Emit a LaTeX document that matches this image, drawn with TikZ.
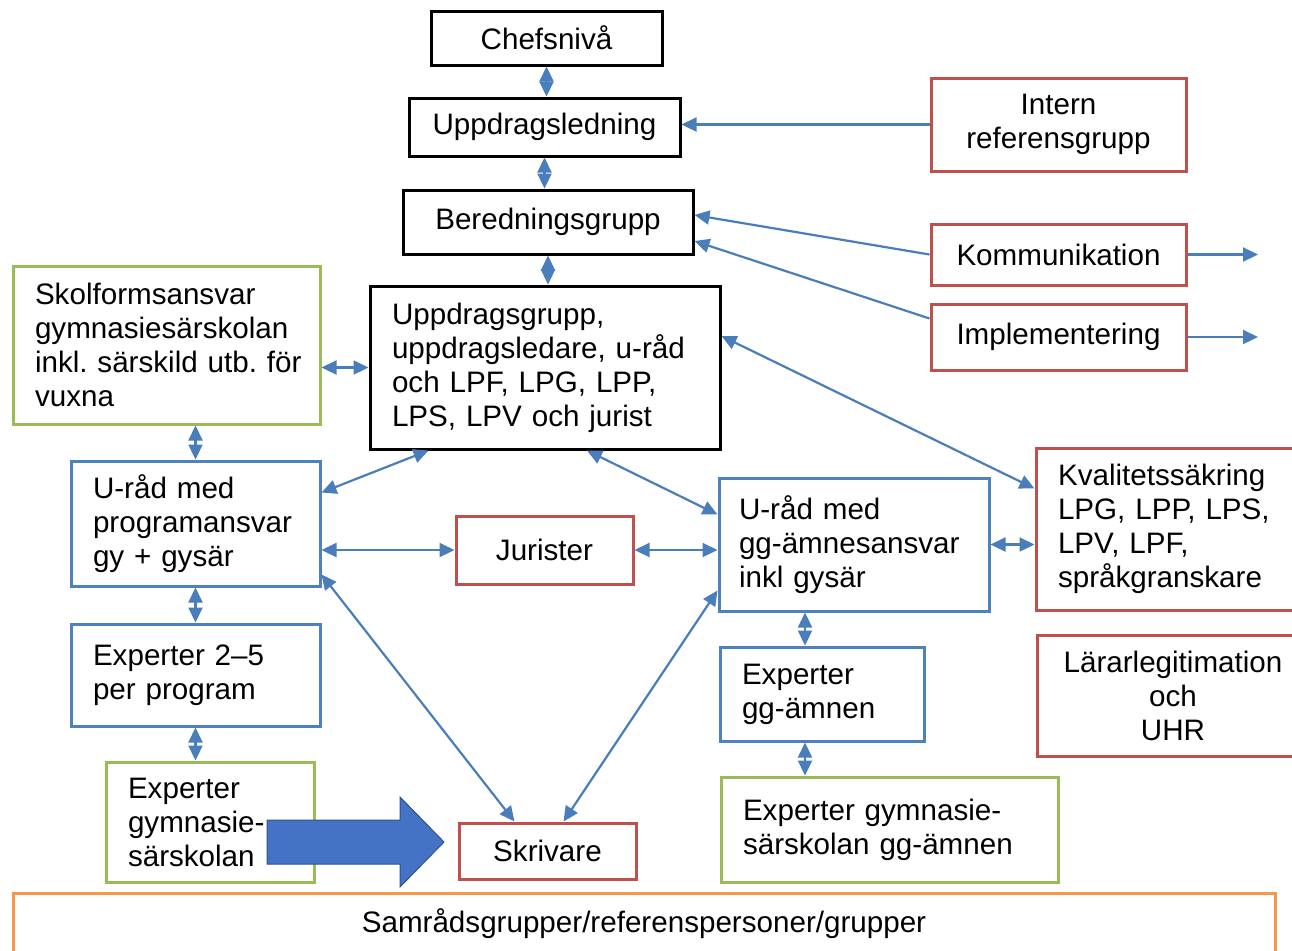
\documentclass[tikz,border=0pt]{standalone}
\usepackage{fontspec}
\setmainfont{Liberation Sans}
\usetikzlibrary{arrows.meta}
\definecolor{boxred}{HTML}{C0504D}
\definecolor{boxblue}{HTML}{4F81BD}
\definecolor{boxgreen}{HTML}{9BBB59}
\definecolor{boxorange}{HTML}{F79646}
\definecolor{lineblue}{HTML}{4A7EBB}
\definecolor{bigblue}{HTML}{4472C4}
\definecolor{bigblueline}{HTML}{2F528F}
\begin{document}
\begin{tikzpicture}[x=0.5pt,y=-0.5pt,
		every node/.style={font=\fontsize{14.8}{17}\selectfont},
		black box/.style={rectangle,draw=black,line width=1.5pt,align=center},
		red box/.style={rectangle,draw=boxred,line width=1.5pt,align=center},
		blue box/.style={rectangle,draw=boxblue,line width=1.5pt,align=left,inner xsep=11pt},
		green box/.style={rectangle,draw=boxgreen,line width=1.5pt,align=left,inner xsep=11pt},
		conn/.style={color=lineblue,line width=1.1pt},
		both/.style={draw,{Triangle[length=7.5pt,width=7pt]}-{Triangle[length=7.5pt,width=7pt]}},
		one/.style={draw,-{Triangle[length=7.5pt,width=7pt]}}]
		
		\useasboundingbox (0,0) rectangle (1292,950);
		
		\node[black box,minimum width=115.5pt,minimum height=27pt] (chef) at (546.5,38) {Chefsnivå};
		\node[black box,minimum width=135.5pt,minimum height=29pt] (ul) at (544.5,127) {Uppdragsledning};
		\node[black box,minimum width=145pt,minimum height=32pt] (bg) at (548,222) {Beredningsgrupp};
		\node[black box,align=left,inner xsep=11pt,text width=153pt,minimum height=81.5pt] (ug) at (545,367.5)
			{Uppdragsgrupp,\\uppdragsledare, u-råd\\och LPF, LPG, LPP,\\LPS, LPV och jurist};
		
		\node[red box,minimum width=127.5pt,minimum height=46.5pt] (irg) at (1058.5,124.5) {Intern\\referensgrupp};
		\node[red box,minimum width=127.5pt,minimum height=30.5pt] (kom) at (1058.5,254.5) {Kommunikation};
		\node[red box,minimum width=127.5pt,minimum height=33pt] (imp) at (1058.5,337) {Implementering};
		\coordinate (komout) at (1258,254.5);
		\coordinate (impout) at (1258,337);
		
		\node[green box,text width=131.5pt,minimum height=79pt] (sk) at (166.5,345)
			{Skolformsansvar\\gymnasiesärskolan\\inkl.~särskild~utb.~för\\vuxna};
		\node[blue box,text width=102.5pt,minimum height=62.5pt] (upr) at (195.5,523.5) {U-råd med\\programansvar\\gy + gysär};
		\node[blue box,text width=102.5pt,minimum height=51pt] (e25) at (195.5,675) {Experter 2–5\\per program};
		\node[green box,text width=82pt,minimum height=60pt] (egs) at (210,822) {Experter\\gymnasie-\\särskolan};
		
		\node[red box,minimum width=88.5pt,minimum height=34pt] (jur) at (544.5,550) {Jurister};
		\node[red box,minimum width=88.5pt,minimum height=28pt] (skr) at (547.5,851) {Skrivare};
		
		\node[blue box,inner xsep=10pt,text width=115pt,minimum height=66.5pt] (ugg) at (854,544.5) {U-råd med\\gg-ämnesansvar\\inkl gysär};
		\node[blue box,text width=80pt,minimum height=47pt] (egg) at (822,694) {Experter\\gg-ämnen};
		\node[green box,text width=146.5pt,minimum height=52.5pt] (egsg) at (889.5,829.5) {Experter gymnasie-\\särskolan gg-ämnen};
		
		\node[red box,align=left,inner xsep=11pt,text width=110pt,minimum height=81pt] (kval) at (1168,529)
			{Kvalitetssäkring\\LPG, LPP, LPS,\\LPV, LPF,\\språkgranskare};
		\node[red box,minimum width=136pt,minimum height=60.5pt] (ll) at (1173,695.5) {Lärarlegitimation\\och\\UHR};
		
		\node[rectangle,draw=boxorange,line width=1.5pt,minimum width=631pt,minimum height=31pt] (sam) at (644,924)
			{Samrådsgrupper/referenspersoner/grupper};
		
		\fill[bigblue,draw=bigblueline,line width=0.5pt] (267,820) -- (400,820) -- (400,797) -- (444,842)
			-- (400,887) -- (400,864) -- (267,864) -- cycle;
		
		\coordinate (ggtop) at ([xshift=-8.5pt]egg.north);
		\coordinate (ggbot) at ([xshift=-8.5pt]egg.south);
		
		\path[conn]
		(chef.south) edge[both] (chef.south |- ul.north)
		(ul.south) edge[both] (ul.south |- bg.north)
		(bg.south) edge[both] (bg.south |- ug.north)
		(irg.west) edge[one] (irg.west -| ul.east)
		(kom.west) edge[one] ([yshift=3.5pt]bg.east)
		([yshift=-8pt]imp.north west) edge[one] ([yshift=-9.5pt]bg.east)
		(kom.east) edge[one] (komout)
		(imp.east) edge[one] (impout)
		([yshift=15.75pt]ug.east) edge[both] ([yshift=-21pt]kval.north west)
		(ug.west) edge[both] (ug.west -| sk.east)
		(upr.north) edge[both] (upr.north |- sk.south)
		(upr.south) edge[both] (e25.north)
		(e25.south) edge[both] (e25.south |- egs.north)
		([yshift=-16.5pt]upr.north east) edge[both] ([xshift=30pt]ug.south west)
		(jur.west) edge[both] (jur.west -| upr.east)
		([yshift=6.5pt]upr.south east) edge[both] ([xshift=28.5pt]skr.north west)
		([xshift=21pt]ug.south) edge[both] ([yshift=-19pt]ugg.north west)
		(jur.east) edge[both] (jur.east -| ugg.west)
		([yshift=11pt]ugg.south west) edge[both] ([xshift=8pt]skr.north)
		(ugg.east) edge[both] (ugg.east -| kval.west)
		(ggtop) edge[both] (ggtop |- ugg.south)
		(ggbot) edge[both] (ggbot |- egsg.north);
\end{tikzpicture}
\end{document}
